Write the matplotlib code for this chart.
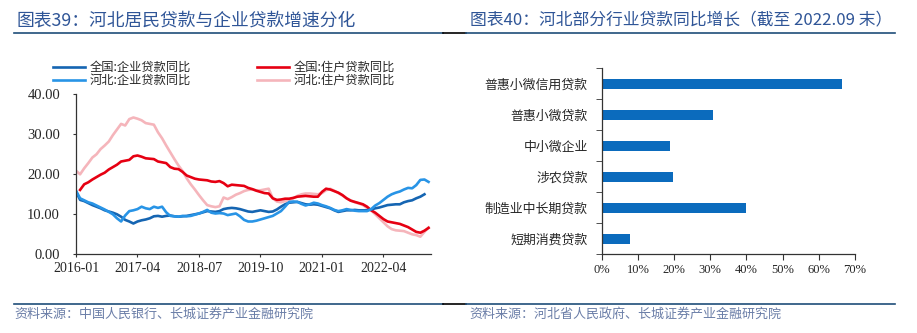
import matplotlib
matplotlib.use("Agg")
import matplotlib.pyplot as plt
from matplotlib.lines import Line2D
import numpy as np

plt.rcParams['font.family'] = ['Noto Sans CJK SC', 'DejaVu Sans']

# ---------------- data: left chart (monthly, from 2016-01) ----------------
months = [f"{2016 + i // 12}-{i % 12 + 1:02d}" for i in range(87)]
xtick_labels = ["2016-01", "2017-04", "2018-07", "2019-10", "2021-01", "2022-04"]

hebei_household = [20.9, 20.0, 21.5, 22.8, 24.2, 25.0, 26.3, 27.2, 28.2, 29.8,
                   31.2, 32.6, 32.2, 33.8, 34.2, 33.9, 33.5, 32.8, 32.6, 32.4,
                   30.5, 29.0, 27.2, 25.5, 23.8, 22.2, 20.8, 19.0, 17.5, 16.2,
                   14.8, 13.5, 12.3, 12.0, 11.8, 12.0, 14.2, 13.8, 14.3, 14.9,
                   15.3, 15.8, 16.1, 16.2, 16.0, 16.0, 16.2, 16.4, 14.0, 13.2,
                   13.0, 13.3, 13.6, 14.0, 14.6, 15.0, 15.2, 15.2, 15.1, 15.0,
                   15.3, 16.0, 16.4, 15.9, 15.3, 14.7, 14.0, 13.5, 13.0, 12.7,
                   12.3, 11.6, 11.0, 10.0, 9.0, 8.0, 7.0, 6.3, 6.0, 5.9,
                   5.8, 5.4, 5.0, 4.8, 4.4, 5.6, 6.7]

national_household = [np.nan, 16.1, 17.5, 18.0, 18.7, 19.3, 19.9, 20.4, 21.2, 21.8,
                      22.4, 23.2, 23.4, 23.6, 24.5, 24.7, 24.4, 24.0, 23.9, 23.8,
                      23.2, 23.0, 22.8, 21.8, 21.4, 21.3, 20.6, 19.7, 19.3, 18.9,
                      18.7, 18.6, 18.5, 18.2, 18.1, 18.3, 17.8, 17.0, 17.4, 17.3,
                      17.2, 17.1, 16.6, 16.3, 15.9, 15.6, 15.3, 15.2, 14.0, 13.6,
                      13.7, 13.9, 13.9, 14.1, 14.4, 14.5, 14.6, 14.5, 14.4, 14.4,
                      15.6, 16.4, 16.2, 15.8, 15.4, 14.8, 14.0, 13.4, 13.1, 12.8,
                      12.5, 11.9, 11.0, 10.4, 9.6, 8.8, 8.2, 8.0, 7.8, 7.6,
                      7.2, 6.8, 6.2, 5.6, 5.4, 5.9, 6.6]

national_corporate = [15.7, 13.6, 13.3, 12.8, 12.3, 11.9, 11.5, 11.0, 10.7, 10.4,
                      10.0, 9.4, 8.6, 8.2, 7.7, 8.2, 8.5, 8.7, 9.0, 9.5,
                      9.6, 9.4, 9.6, 9.7, 9.5, 9.4, 9.5, 9.6, 9.8, 10.0,
                      10.2, 10.5, 10.8, 10.7, 10.6, 10.8, 11.3, 11.5, 11.6, 11.5,
                      11.3, 11.0, 10.7, 10.6, 10.8, 11.0, 10.8, 10.6, 10.7, 11.2,
                      11.9, 12.5, 12.9, 13.0, 13.1, 12.8, 12.5, 12.4, 12.5, 12.4,
                      12.1, 11.8, 11.5, 11.0, 10.6, 10.8, 11.0, 11.0, 11.1, 11.0,
                      11.0, 11.0, 11.2, 11.5, 11.7, 12.0, 12.3, 12.4, 12.5, 12.5,
                      13.0, 13.3, 13.5, 14.0, 14.4, 15.0, np.nan]

hebei_corporate = [15.9, 14.0, 13.5, 13.0, 12.7, 12.2, 11.7, 11.2, 10.6, 10.0,
                   9.0, 8.2, 9.7, 10.8, 11.0, 11.3, 11.9, 11.5, 11.3, 11.9,
                   11.6, 11.9, 10.5, 9.6, 9.5, 9.4, 9.6, 9.5, 9.6, 9.9,
                   10.2, 10.6, 11.1, 10.4, 10.2, 10.3, 10.2, 9.8, 10.0, 10.2,
                   9.5, 8.6, 8.2, 8.2, 8.4, 8.7, 9.0, 9.3, 9.6, 10.2,
                   10.8, 11.9, 13.1, 13.2, 13.1, 12.6, 12.2, 12.5, 12.9, 12.7,
                   12.3, 12.0, 11.6, 11.1, 10.8, 11.0, 11.3, 11.1, 10.9, 10.8,
                   10.8, 10.8, 11.3, 12.2, 12.8, 13.6, 14.4, 15.0, 15.4, 15.7,
                   16.2, 16.6, 16.5, 17.3, 18.6, 18.7, 18.1]

# ---------------- data: right chart ----------------
industries = ["普惠小微信用贷款", "普惠小微贷款", "中小微企业", "涉农贷款",
              "制造业中长期贷款", "短期消费贷款"]
growth = [66.3, 30.7, 18.9, 19.6, 39.8, 7.7]

# ---------------- figure ----------------
W, H = 917, 333
fig = plt.figure(figsize=(W / 100, H / 100), dpi=100)
fig.patch.set_facecolor("white")

def fx(px):
    return px / W

def fy(py):
    return 1 - py / H

title_color = "#2f5597"
src_color = "#6b7ea8"
rule_blue = "#1f4e79"
txt = "#262626"

fig.text(fx(16), fy(20), "图表39：河北居民贷款与企业贷款增速分化", fontsize=12.8,
         color=title_color, va="center", ha="left", style="italic")
fig.text(fx(470), fy(20), "图表40：河北部分行业贷款同比增长（截至 2022.09 末）", fontsize=12.1,
         color=title_color, va="center", ha="left", style="italic")

for (x0, x1, c) in [(14, 443, rule_blue), (443, 466, "black"), (466, 895, rule_blue)]:
    fig.add_artist(Line2D([fx(x0), fx(x1)], [fy(32.5), fy(32.5)], color=c, lw=1.2))
    fig.add_artist(Line2D([fx(x0), fx(x1)], [fy(304), fy(304)], color=c, lw=1.2))

fig.text(fx(14), fy(314), "资料来源：中国人民银行、长城证券产业金融研究院", fontsize=9.4,
         color=src_color, va="center", ha="left", style="italic")
fig.text(fx(469), fy(314), "资料来源：河北省人民政府、长城证券产业金融研究院", fontsize=9.4,
         color=src_color, va="center", ha="left", style="italic")

# ---------------- left chart ----------------
ax1 = fig.add_axes([fx(76), fy(254.3), fx(431) - fx(76), fy(94.3) - fy(254.3)])
x = np.arange(len(months))
c_nat_corp = "#1565b2"
c_heb_corp = "#2894e6"
c_nat_hh = "#e60012"
c_heb_hh = "#f5b5bb"
lw = 1.9
l4, = ax1.plot(x, hebei_household, color=c_heb_hh, lw=lw, label="河北:住户贷款同比")
l3, = ax1.plot(x, national_household, color=c_nat_hh, lw=lw, label="全国:住户贷款同比")
l1, = ax1.plot(x, national_corporate, color=c_nat_corp, lw=lw, label="全国:企业贷款同比")
l2, = ax1.plot(x, hebei_corporate, color=c_heb_corp, lw=lw, label="河北:企业贷款同比")

ax1.set_xlim(0, 86.6)
ax1.set_ylim(0, 40)
ax1.set_yticks([0, 10, 20, 30, 40])
ax1.set_yticklabels([f"{v:.2f}" for v in [0, 10, 20, 30, 40]],
                    family="Liberation Serif", fontsize=10.5)
ax1.set_xticks([months.index(m) for m in xtick_labels])
ax1.set_xticklabels(xtick_labels, family="Liberation Serif", fontsize=10)
for s in ["top", "right"]:
    ax1.spines[s].set_visible(False)
for s in ["left", "bottom"]:
    ax1.spines[s].set_color("#333333")
    ax1.spines[s].set_linewidth(0.9)
ax1.tick_params(axis="y", direction="out", length=2.5, pad=9, colors="#333333")
ax1.tick_params(axis="x", direction="out", length=2.5, pad=3, colors="#333333")
ax1.tick_params(labelcolor=txt)

fig.legend(handles=[l1, l2, l3, l4],
           labels=[h.get_label() for h in [l1, l2, l3, l4]],
           loc="upper left", bbox_to_anchor=(fx(53), fy(61)), ncol=2,
           frameon=False, fontsize=8.8, borderpad=0, borderaxespad=0,
           handlelength=2.6, handletextpad=0.4, columnspacing=5.4,
           labelspacing=0.02, labelcolor=txt)

# ---------------- right chart ----------------
ax2 = fig.add_axes([fx(601.7), fy(254.3), fx(855) - fx(601.7), fy(68.3) - fy(254.3)])
ypos = np.arange(len(industries))[::-1]
ax2.barh(ypos, growth, height=0.33, color="#0b6bbd")
ax2.set_xlim(0, 70)
ax2.set_ylim(-0.5, len(industries) - 0.5)
ax2.set_yticks(ypos)
ax2.set_yticklabels(industries, fontsize=9.3, color=txt)
ax2.set_yticks(np.arange(-0.5, len(industries), 1.0), minor=True)
ax2.tick_params(axis="y", which="major", length=0, pad=10)
ax2.tick_params(axis="y", which="minor", length=4, direction="out", color="#333333")
ax2.set_xticks(np.arange(0, 71, 10))
ax2.set_xticklabels([f"{v}%" for v in range(0, 71, 10)],
                    family="Liberation Serif", fontsize=9, color=txt)
ax2.tick_params(axis="x", direction="out", length=4, pad=3, color="#333333")
for s in ["top", "right"]:
    ax2.spines[s].set_visible(False)
for s in ["left", "bottom"]:
    ax2.spines[s].set_color("#333333")
    ax2.spines[s].set_linewidth(0.9)

fig.savefig("out.png", dpi=100, facecolor="white")
